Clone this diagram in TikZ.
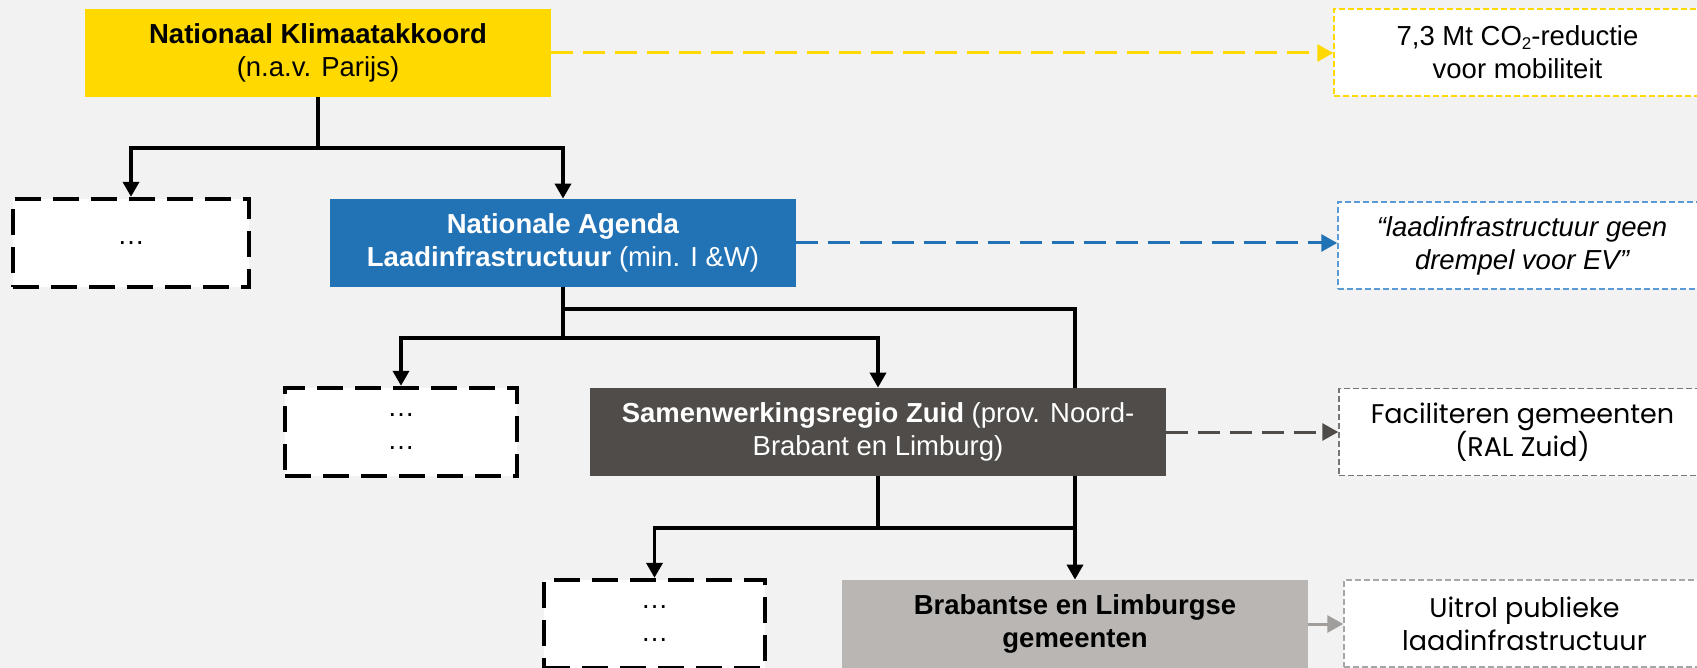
\documentclass[tikz,border=0pt]{standalone}
\usepackage{fontspec}
\setmainfont{Liberation Sans}
\newfontfamily\gothic{Poppins}
\usetikzlibrary{arrows.meta}
\definecolor{bgc}{RGB}{242,242,242}
\definecolor{ylw}{RGB}{255,217,0}
\definecolor{blu}{RGB}{34,114,182}
\definecolor{blul}{RGB}{91,155,213}
\definecolor{drk}{RGB}{80,76,73}
\definecolor{lgt}{RGB}{186,182,179}
\definecolor{gra}{RGB}{118,118,118}
\definecolor{gral}{RGB}{166,166,166}
\definecolor{grarr}{RGB}{160,157,154}
\pgfdeclarelayer{bg}
\pgfdeclarelayer{lines}
\pgfsetlayers{bg,lines,main}
\newcommand{\smallsub}[1]{\raisebox{-0.12em}{\fontsize{8.5}{8.5}\selectfont #1}}
\tikzset{
  base/.style={rectangle, inner sep=0pt, align=center, minimum height=44pt,
    font=\fontsize{13.75}{16.5}\selectfont},
  solidbox/.style={base, fill=#1},
  dashbox/.style={base, fill=white, draw=black, line width=2.2pt, dash pattern=on 13pt off 6pt},
  notebox/.style={base, fill=white, draw=#1, line width=0.75pt, dash pattern=on 3pt off 1.5pt, minimum height=43.5pt},
  conn/.style={draw=black, line width=1.8pt},
  arr/.style={conn, -{Triangle[length=7.5pt,width=8pt]}},
  darr/.style={draw=#1, line width=1.5pt, dash pattern=on 11pt off 5pt, -{Triangle[length=8pt,width=8.5pt]}}
}
\begin{document}
\begin{tikzpicture}[x=0.5pt,y=-0.5pt]
\useasboundingbox (0,0) rectangle (1697,668);
\begin{pgfonlayer}{bg}
\fill[bgc] (0,0) rectangle (1697,668);
\end{pgfonlayer}

% main boxes
\node[solidbox=ylw, minimum width=233pt] (ka) at (318,53) {\textbf{Nationaal Klimaatakkoord}\\(n.a.v. Parijs)};
\node[dashbox, minimum width=118pt] (d1) at (131,243) {…};
\node[solidbox=blu, text=white, minimum width=233pt] (nal) at (563,243) {\textbf{Nationale Agenda}\\\textbf{Laadinfrastructuur} (min. I \&W)};
\node[dashbox, minimum width=116pt] (d2) at (401,432) {…\\…};
\node[solidbox=drk, text=white, minimum width=288pt] (sam) at (878,432) {\textbf{Samenwerkingsregio Zuid} (prov. Noord-\\Brabant en Limburg)};
\node[dashbox, minimum width=110.5pt] (d3) at (654.5,624) {…\\…};
\node[solidbox=lgt, minimum width=233pt] (bra) at (1075,624) {\textbf{Brabantse en Limburgse}\\\textbf{gemeenten}};

% note boxes
\node[notebox=ylw, minimum width=183.5pt] (r1) at (1517.5,52.5) {7,3 Mt CO\smallsub{2}-reductie\\voor mobiliteit};
\node[notebox=blul, minimum width=184pt] (r2) at (1522,245.5) {\itshape “laadinfrastructuur geen\\\itshape drempel voor EV”};
\node[notebox=gra, minimum width=183.5pt, font=\gothic\fontsize{13.5}{16.5}\selectfont] (r3) at (1522.5,432) {Faciliteren gemeenten\\(RAL Zuid)};
\node[notebox=gral, minimum width=180.5pt, font=\gothic\fontsize{13.5}{16.5}\selectfont] (r4) at (1524.5,623.5) {Uitrol publieke\\laadinfrastructuur};

% junction levels
\coordinate (h1) at (0,148);
\coordinate (h2) at (0,309);
\coordinate (h3) at (0,338);
\coordinate (h4) at (0,528);

\begin{pgfonlayer}{lines}
\draw[conn] (ka.south) -- (ka.south |- h1);
\draw[arr] (ka.south |- h1) -| (d1.north);
\draw[arr] (ka.south |- h1) -| (nal.north);
\draw[conn] (nal.south) -- (nal.south |- h3);
\draw[arr] (nal.south |- h3) -| (d2.north);
\draw[arr] (nal.south |- h3) -| (sam.north);
\draw[arr] (nal.south |- h2) -| (bra.north);
\draw[conn] (sam.south) -- (sam.south |- h4);
\draw[arr] (sam.south |- h4) -| (d3.north);
\draw[conn] (sam.south |- h4) -- (bra.north |- h4);
\draw[darr=ylw] (ka.east) -- (ka.east -| r1.west);
\draw[darr=blu] (nal.east) -- (nal.east -| r2.west);
\draw[darr=drk] (sam.east) -- (sam.east -| r3.west);
\draw[darr=grarr] (bra.east) -- (bra.east -| r4.west);
\end{pgfonlayer}
\end{tikzpicture}
\end{document}
